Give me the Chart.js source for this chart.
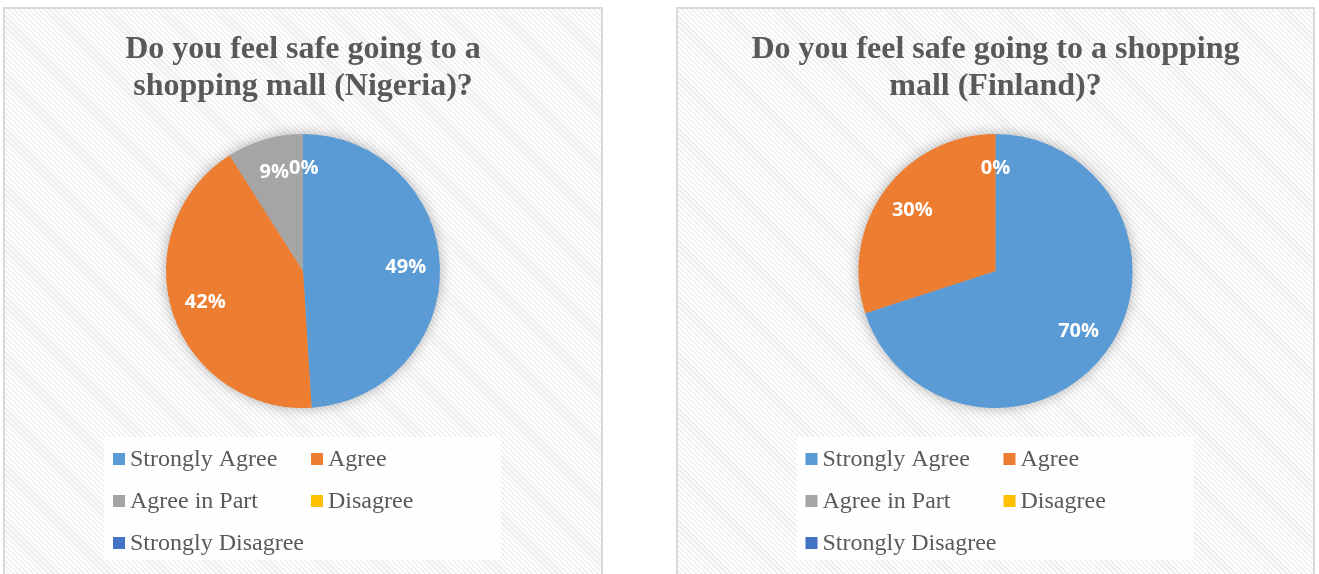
<!DOCTYPE html>
<html>
<head>
<meta charset="utf-8">
<script src="https://cdn.jsdelivr.net/npm/chart.js@4/dist/chart.umd.min.js"></script>
<style>
    html, body {
        margin: 0;
        padding: 0;
        background: #ffffff;
        width: 1319px;
        height: 574px;
        overflow: hidden;
    }

    .panel {
        position: absolute;
        top: 7px;
        height: 580px;
        box-sizing: border-box;
        border: 2px solid #d9d9d9;
        background: repeating-linear-gradient(45deg, #ffffff 0 2px, #eeeeee 2px 3.6px);
    }

    #panel-nigeria {
        left: 3px;
        width: 600px;
    }

    #panel-finland {
        left: 676px;
        width: 639px;
    }

    .panel canvas {
        display: block;
    }
</style>
</head>
<body>
<div class="panel" id="panel-nigeria"><canvas id="chart-nigeria"></canvas></div>
<div class="panel" id="panel-finland"><canvas id="chart-finland"></canvas></div>
<script>
// data
const categories = ['Strongly Agree', 'Agree', 'Agree in Part', 'Disagree', 'Strongly Disagree'];
const nigeriaValues = [49, 42, 9, 0, 0];
const finlandValues = [70, 30, 0, 0, 0];
const nigeriaTitle = ['Do you feel safe going to a', 'shopping mall (Nigeria)?'];
const finlandTitle = ['Do you feel safe going to a shopping', 'mall (Finland)?'];
const sliceColors = ['#5b9bd5', '#ed7d31', '#a5a5a5', '#ffc000', '#4472c4'];

const SERIF = '"Liberation Serif", "Times New Roman", serif';
const TEXT_GREY = '#595959';

// soft glow behind the pie
const pieShadow = {
    id: 'pieShadow',
    beforeDatasetsDraw(chart) {
        const arc = chart.getDatasetMeta(0).data[0];
        if (!arc) return;
        const {ctx} = chart;
        ctx.save();
        ctx.shadowColor = 'rgba(0, 0, 0, 0.35)';
        ctx.shadowBlur = 14;
        ctx.fillStyle = '#b0b0b0';
        ctx.beginPath();
        ctx.arc(arc.x, arc.y, arc.outerRadius - 1, 0, Math.PI * 2);
        ctx.fill();
        ctx.restore();
    }
};

// percentage labels inside the slices
const sliceLabels = {
    id: 'sliceLabels',
    afterDatasetsDraw(chart) {
        const {ctx} = chart;
        const meta = chart.getDatasetMeta(0);
        const values = chart.data.datasets[0].data;
        const placed = [];
        ctx.save();
        ctx.font = 'bold 20px "Open Sans", "Liberation Sans", sans-serif';
        ctx.fillStyle = '#ffffff';
        ctx.textAlign = 'center';
        ctx.textBaseline = 'middle';
        meta.data.forEach((arc, i) => {
            const p = arc.getProps(['x', 'y', 'startAngle', 'endAngle', 'outerRadius'], true);
            const mid = (p.startAngle + p.endAngle) / 2;
            const r = p.outerRadius * 0.75;
            let x = p.x + Math.cos(mid) * r;
            let y = p.y + Math.sin(mid) * r;
            const text = values[i] + '%';
            const w = ctx.measureText(text).width;
            // same text on the same spot: draw once
            if (placed.some(b => b.text === text && Math.abs(b.x - x) < 1 && Math.abs(b.y - y) < 1)) return;
            // nudge sideways if it runs into a label already drawn
            placed.forEach((b) => {
                if (Math.abs(b.x - x) < (b.w + w) / 2 && Math.abs(b.y - y) < 16) {
                    x = x >= b.x ? b.x + (b.w + w) / 2 : b.x - (b.w + w) / 2;
                }
            });
            ctx.fillText(text, x, y);
            placed.push({x, y, w, text});
        });
        ctx.restore();
    }
};

// two column legend in a white box under the pie
const boxLegend = {
    id: 'boxLegend',
    afterDraw(chart) {
        const {ctx, chartArea} = chart;
        const items = chart.options.plugins.legend.labels.generateLabels(chart);
        const cx = (chartArea.left + chartArea.right) / 2;
        const boxX = cx - 199;
        const boxY = chartArea.bottom + 29;
        ctx.save();
        ctx.fillStyle = 'rgba(255, 255, 255, 0.88)';
        ctx.fillRect(boxX, boxY, 397, 123);
        ctx.font = '24px ' + SERIF;
        ctx.textBaseline = 'middle';
        ctx.textAlign = 'left';
        items.forEach((item, i) => {
            const col = i % 2;
            const row = Math.floor(i / 2);
            const x = boxX + 9 + col * 198;
            const y = boxY + 22 + row * 42;
            ctx.fillStyle = item.fillStyle;
            ctx.fillRect(x, y - 6, 12, 12);
            ctx.fillStyle = TEXT_GREY;
            ctx.fillText(item.text, x + 17, y + 1);
        });
        ctx.restore();
    }
};

function makePie(canvasId, title, values) {
    const canvas = document.getElementById(canvasId);
    const panel = canvas.parentElement;
    canvas.width = panel.clientWidth;
    canvas.height = panel.clientHeight;
    return new Chart(canvas, {
        type: 'pie',
        data: {
            labels: categories,
            datasets: [{
                data: values,
                backgroundColor: sliceColors,
                borderWidth: 0,
            }]
        },
        options: {
            responsive: false,
            animation: false,
            layout: {
                padding: {top: 0, bottom: 177, left: 0, right: 0}
            },
            plugins: {
                legend: {display: false},
                tooltip: {enabled: false},
                title: {
                    display: true,
                    text: title,
                    color: TEXT_GREY,
                    font: {family: SERIF, size: 32, weight: 'bold', lineHeight: 1.156},
                    padding: {top: 22.5, bottom: 28.5},
                }
            }
        },
        plugins: [pieShadow, sliceLabels, boxLegend]
    });
}

makePie('chart-nigeria', nigeriaTitle, nigeriaValues);
makePie('chart-finland', finlandTitle, finlandValues);
</script>
</body>
</html>
